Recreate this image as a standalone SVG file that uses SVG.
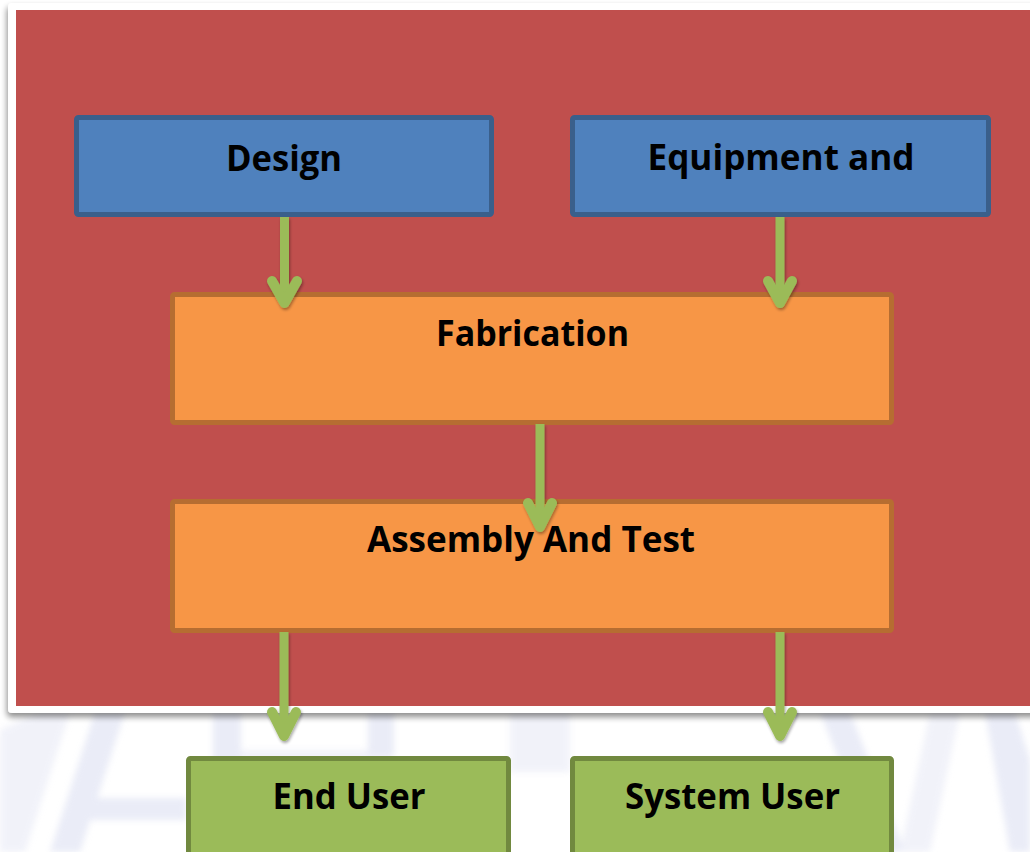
<svg xmlns="http://www.w3.org/2000/svg" width="1030" height="852" viewBox="0 0 1030 852">
  <defs>
    <filter id="panelShadow" x="-5%" y="-5%" width="110%" height="115%">
      <feGaussianBlur in="SourceAlpha" stdDeviation="3"/>
      <feOffset dx="-1" dy="4" result="b"/>
      <feComponentTransfer><feFuncA type="linear" slope="0.45"/></feComponentTransfer>
      <feMerge><feMergeNode/><feMergeNode in="SourceGraphic"/></feMerge>
    </filter>
    <filter id="arrowShadow" x="-50%" y="-10%" width="200%" height="120%">
      <feGaussianBlur in="SourceAlpha" stdDeviation="1.5"/>
      <feOffset dx="1" dy="2" result="b"/>
      <feComponentTransfer><feFuncA type="linear" slope="0.35"/></feComponentTransfer>
      <feMerge><feMergeNode/><feMergeNode in="SourceGraphic"/></feMerge>
    </filter>
    <filter id="soft" x="-10%" y="-10%" width="120%" height="120%">
      <feGaussianBlur stdDeviation="3"/>
    </filter>
  </defs>
  <style>
    .lbl { font-family: "Open Sans", "Liberation Sans", sans-serif; font-weight: bold; font-size: 35px; fill: #000; text-anchor: middle; }
    .blue { fill: #4F81BD; stroke: #3A5F8B; stroke-width: 5; }
    .orange { fill: #F79646; stroke: #B66D31; stroke-width: 5; }
    .green { fill: #9BBB59; stroke: #71893F; stroke-width: 5; }
    .shaft { stroke: #9BBB59; stroke-width: 9; fill: none; }
    .head { stroke: #9BBB59; stroke-width: 10; fill: none; stroke-linecap: round; stroke-linejoin: round; }
    .wm { fill: #D9DDF1; }
    .wm2 { fill: #E6E8F5; }
  </style>

  <rect width="1030" height="852" fill="#FFFFFF"/>

  <!-- faint background emblem -->
  <g id="watermark" opacity="0.55" filter="url(#soft)">
    <polygon class="wm2" points="0,730 40,712 70,712 25,852 0,852"/>
    <polygon class="wm" points="95,712 125,712 80,852 50,852"/>
    <rect class="wm" x="213" y="712" width="28" height="140"/>
    <rect class="wm2" x="241" y="750" width="150" height="10"/>
    <rect class="wm" x="80" y="798" width="106" height="22"/>
    <rect class="wm" x="368" y="712" width="26" height="44"/>
    <rect class="wm2" x="510" y="712" width="60" height="60"/>
    <polygon class="wm" points="820,712 850,712 905,852 875,852"/>
    <polygon class="wm2" points="930,712 960,712 930,852 900,852"/>
    <polygon class="wm" points="985,712 1015,712 1030,760 1030,852 1010,852"/>
  </g>

  <!-- framed panel -->
  <g id="panel" filter="url(#panelShadow)">
    <rect x="8" y="3" width="1040" height="710" rx="4" fill="#FFFFFF"/>
    <rect x="16" y="10" width="1030" height="696" fill="#C0504D"/>
  </g>

  <g id="node-design">
    <rect class="blue" x="76.5" y="117.5" width="415" height="97" rx="2"/>
    <text class="lbl" x="284" y="171" textLength="116" lengthAdjust="spacingAndGlyphs">Design</text>
  </g>
  <g id="node-equipment">
    <rect class="blue" x="572.5" y="117.5" width="416" height="97" rx="2"/>
    <text class="lbl" x="781" y="170" textLength="267" lengthAdjust="spacingAndGlyphs">Equipment and</text>
  </g>
  <g id="node-fabrication">
    <rect class="orange" x="172.5" y="294.5" width="719" height="128" rx="2"/>
    <text class="lbl" x="532.5" y="346" textLength="193" lengthAdjust="spacingAndGlyphs">Fabrication</text>
  </g>
  <g id="node-assembly">
    <rect class="orange" x="172.5" y="501.5" width="719" height="129" rx="2"/>
  </g>
  <g id="node-end-user">
    <rect class="green" x="188.5" y="758.5" width="320" height="110" rx="2"/>
    <text class="lbl" x="349" y="809" textLength="153" lengthAdjust="spacingAndGlyphs">End User</text>
  </g>
  <g id="node-system-user">
    <rect class="green" x="572.5" y="758.5" width="319" height="110" rx="2"/>
    <text class="lbl" x="732.5" y="809" textLength="215" lengthAdjust="spacingAndGlyphs">System User</text>
  </g>

  <g id="connectors" filter="url(#arrowShadow)">
    <line class="shaft" x1="284.5" y1="217" x2="284.5" y2="300"/>
    <polyline class="head" points="272,281 284.5,303 297,281"/>
    <line class="shaft" x1="780" y1="217" x2="780" y2="300"/>
    <polyline class="head" points="768,281 780,303 792,281"/>
    <line class="shaft" x1="540" y1="424" x2="540" y2="524"/>
    <polyline class="head" points="528,503 540,527 552,503"/>
    <line class="shaft" x1="284" y1="632" x2="284" y2="733"/>
    <polyline class="head" points="272,712 284,736 296,712"/>
    <line class="shaft" x1="780" y1="632" x2="780" y2="733"/>
    <polyline class="head" points="768,712 780,736 792,712"/>
  </g>

  <!-- label drawn over the incoming arrow tip -->
  <text class="lbl" x="531" y="552" textLength="328" lengthAdjust="spacingAndGlyphs">Assembly And Test</text>
</svg>
